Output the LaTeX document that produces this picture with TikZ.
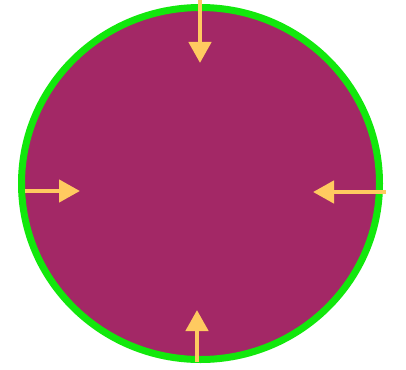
\documentclass[tikz,border=0pt]{standalone}
\usetikzlibrary{arrows.meta}
\definecolor{discfill}{RGB}{163,40,102}
\definecolor{rimgreen}{RGB}{18,232,12}
\definecolor{pusharrow}{RGB}{255,202,96}
\tikzset{
  push/.style={pusharrow,line width=4.5pt,-{Triangle[length=21pt,width=22pt]}}
}
\begin{document}
\begin{tikzpicture}[x=1pt,y=-1pt]
  \useasboundingbox (0,0) rectangle (406,369);
  % Filled disc with green rim
  \draw[rimgreen,line width=7pt,fill=discfill] (200.5,183.5) ellipse (179 and 176);
  % Arrow end points
  \coordinate (topout) at (200,0);
  \coordinate (topin) at (200,63);
  \coordinate (leftout) at (25,191);
  \coordinate (leftin) at (80,191);
  \coordinate (rightout) at (386,192);
  \coordinate (rightin) at (313,192);
  \coordinate (botout) at (197,362);
  \coordinate (botin) at (197,310);
  % Inward arrows
  \draw[push] (topout) -- (topin);
  \draw[push] (leftout) -- (leftin);
  \draw[push] (rightout) -- (rightin);
  \draw[push] (botout) -- (botin);
\end{tikzpicture}
\end{document}
